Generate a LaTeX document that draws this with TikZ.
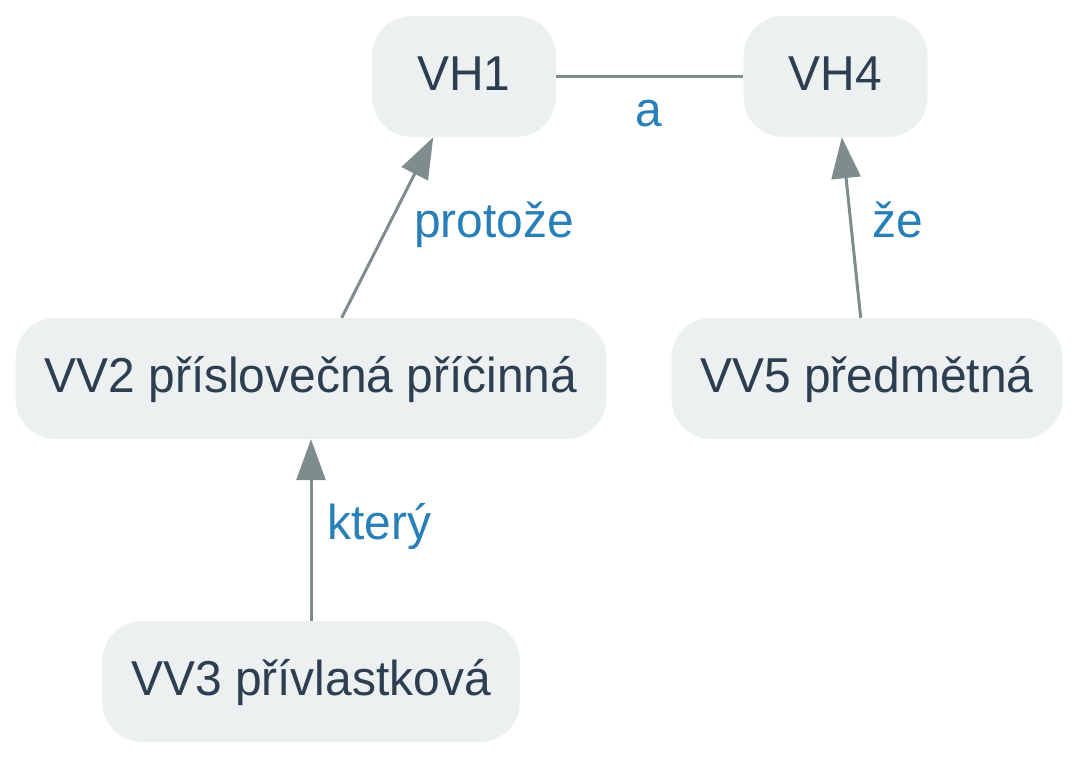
\documentclass[tikz,border=0pt]{standalone}
\usepackage{fontspec}
\setmainfont[FakeStretch=0.978]{Liberation Sans}
\usetikzlibrary{arrows.meta}
\definecolor{boxfill}{HTML}{ECF0F1}
\definecolor{boxtext}{HTML}{2C3E50}
\definecolor{edgegray}{HTML}{7F8C8D}
\definecolor{edgeblue}{HTML}{2980B9}
\begin{document}
\begin{tikzpicture}[x=1pt,y=-1pt]
\tikzstyle{every node}+=[inner sep=0pt]
\tikzstyle{clause}=[fill=boxfill, text=boxtext, rounded corners=40pt, minimum height=121pt, minimum width=184pt, inner xsep=29pt, text height=37pt, text depth=10pt, font=\fontsize{49}{59}\selectfont]
\tikzstyle{conj}=[text=edgeblue, font=\fontsize{49}{59}\selectfont]
\tikzstyle{link}=[draw=edgegray, line width=3pt]
\tikzstyle{arr}=[link, -{Triangle[length=41pt,width=29pt]}]
\useasboundingbox (0,0) rectangle (1077,758);
\node [clause] (vh1) at (464,76.5) {VH1};
\node [clause] (vh4) at (835.5,76.5) {VH4};
\node [clause] (vv2) at (311,378.5) {VV2 příslovečná příčinná};
\node [clause] (vv5) at (867,378.5) {VV5 předmětná};
\node [clause] (vv3) at (311,681.5) {VV3 přívlastková};
\draw [link] (vh1) -- (vh4);
\draw [arr] (vv2) -- (vh1);
\draw [arr] (vv5) -- (vh4);
\draw [arr] (vv3) -- (vv2);
% conjunctions on the edges
\node [conj, anchor=base] (conja) at (649,126) {a};
\node [conj, anchor=base west] (conjprotoze) at (414,237) {protože};
\node [conj, anchor=base west] (conjze) at (872,237) {že};
\node [conj, anchor=base west] (conjktery) at (327,539) {který};
\end{tikzpicture}
\end{document}
